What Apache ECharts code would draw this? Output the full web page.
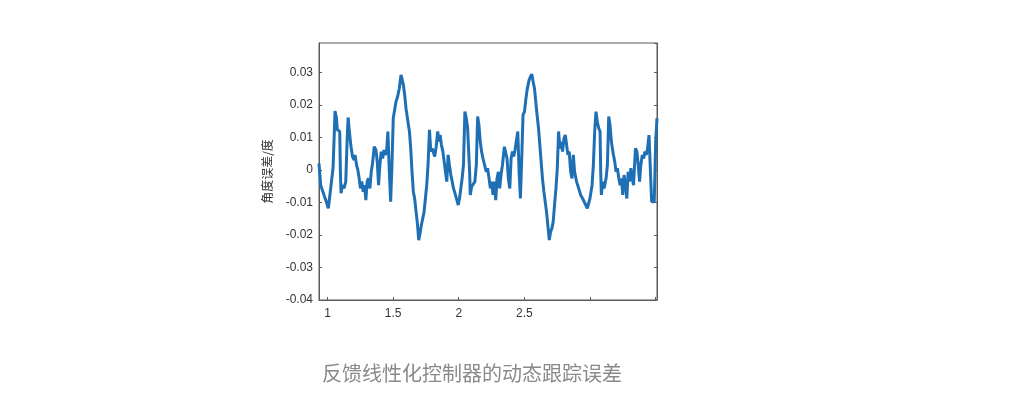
<!DOCTYPE html>
<html lang="zh">
<head>
    <meta charset="UTF-8">
    <title>反馈线性化控制器的动态跟踪误差</title>
    <style>
        html, body { margin: 0; padding: 0; background: #fff; }
        #container { width: 1024px; height: 407px; }
    </style>
</head>
<body>
<div id="container"></div>
<script src="https://cdn.jsdelivr.net/npm/echarts@6/dist/echarts.min.js"></script>
<script type="text/javascript">
    // time (x) and angle error (y)
    var timeData = [
        0.935, 0.948, 0.973, 0.991, 1.006, 1.024, 1.042, 1.052, 1.057, 1.068, 1.075, 1.083, 1.093, 1.098, 1.103,
        1.113, 1.126, 1.139, 1.149, 1.157, 1.164, 1.177, 1.190, 1.203, 1.210, 1.221, 1.231, 1.241, 1.251, 1.261,
        1.272, 1.282, 1.292, 1.302, 1.312, 1.323, 1.333, 1.343, 1.356, 1.369, 1.379, 1.389, 1.399, 1.409, 1.420,
        1.430, 1.440, 1.450, 1.460, 1.471, 1.481, 1.491, 1.501, 1.511, 1.522, 1.534, 1.547, 1.560, 1.567, 1.578,
        1.588, 1.598, 1.613, 1.624, 1.634, 1.644, 1.654, 1.664, 1.675, 1.685, 1.695, 1.705, 1.715, 1.726, 1.736,
        1.746, 1.756, 1.766, 1.777, 1.787, 1.797, 1.807, 1.817, 1.828, 1.840, 1.848, 1.858, 1.868, 1.879, 1.889,
        1.899, 1.909, 1.919, 1.929, 1.940, 1.950, 1.960, 1.975, 1.986, 1.996, 2.006, 2.016, 2.026, 2.036, 2.047,
        2.057, 2.067, 2.077, 2.083, 2.088, 2.098, 2.108, 2.123, 2.134, 2.144, 2.154, 2.164, 2.174, 2.185, 2.197,
        2.210, 2.220, 2.231, 2.241, 2.251, 2.261, 2.271, 2.282, 2.292, 2.302, 2.312, 2.322, 2.333, 2.348, 2.358,
        2.368, 2.378, 2.389, 2.399, 2.409, 2.419, 2.429, 2.440, 2.450, 2.460, 2.470, 2.480, 2.490, 2.501, 2.511,
        2.521, 2.536, 2.547, 2.557, 2.567, 2.577, 2.587, 2.597, 2.608, 2.618, 2.628, 2.638, 2.649, 2.659, 2.669,
        2.679, 2.690, 2.700, 2.710, 2.720, 2.730, 2.741, 2.751, 2.761, 2.771, 2.781, 2.791, 2.802, 2.812, 2.822,
        2.832, 2.842, 2.853, 2.863, 2.873, 2.883, 2.898, 2.914, 2.929, 2.944, 2.980, 3.000, 3.016, 3.026, 3.036,
        3.046, 3.056, 3.067, 3.077, 3.082, 3.087, 3.097, 3.108, 3.123, 3.133, 3.143, 3.153, 3.163, 3.179, 3.189,
        3.199, 3.209, 3.220, 3.230, 3.240, 3.250, 3.260, 3.271, 3.281, 3.291, 3.301, 3.312, 3.322, 3.332, 3.347,
        3.358, 3.368, 3.378, 3.388, 3.399, 3.409, 3.419, 3.429, 3.439, 3.450, 3.460, 3.470, 3.490, 3.501, 3.511
    ];
    var errorData = [
        0.0020, -0.0047, -0.0077, -0.0098, -0.0118, -0.0057, 0.0005, 0.0118, 0.0181, 0.0159, 0.0123, 0.0128, 0.0118, -0.0006, -0.0072,
        -0.0047, -0.0057, -0.0036, 0.0087, 0.0161, 0.0128, 0.0077, 0.0041, 0.0030, 0.0046, 0.0015, 0.0000, -0.0026, -0.0057, -0.0036,
        -0.0067, -0.0047, -0.0093, -0.0036, -0.0026, -0.0057, -0.0006, 0.0020, 0.0071, 0.0061, 0.0025, -0.0047, 0.0015, 0.0056, 0.0035,
        0.0061, 0.0046, 0.0056, 0.0118, -0.0006, -0.0098, 0.0015, 0.0159, 0.0153, 0.0210, 0.0225, 0.0251, 0.0292, 0.0297, 0.0261,
        0.0230, 0.0189, 0.0148, 0.0118, 0.0066, -0.0006, -0.0067, -0.0088, -0.0129, -0.0165, -0.0216, -0.0195, -0.0170, -0.0165, -0.0129,
        -0.0088, -0.0047, 0.0015, 0.0123, 0.0056, 0.0066, 0.0066, 0.0041, 0.0071, 0.0118, 0.0087, 0.0107, 0.0077, 0.0056, 0.0061,
        -0.0006, -0.0036, 0.0046, 0.0015, -0.0016, -0.0036, -0.0057, -0.0077, -0.0093, -0.0108, -0.0088, -0.0057, -0.0026, 0.0015, 0.0179,
        0.0159, 0.0133, 0.0128, -0.0006, -0.0077, -0.0052, -0.0057, -0.0036, 0.0015, 0.0164, 0.0138, 0.0087, 0.0056, 0.0035, 0.0015,
        -0.0006, 0.0005, -0.0026, -0.0057, -0.0036, -0.0077, -0.0036, -0.0093, -0.0026, -0.0006, -0.0057, -0.0016, 0.0015, 0.0071, 0.0066,
        0.0035, -0.0026, -0.0057, 0.0035, 0.0056, 0.0041, 0.0061, 0.0056, 0.0118, -0.0006, -0.0088, 0.0035, 0.0169, 0.0179, 0.0215,
        0.0246, 0.0276, 0.0287, 0.0294, 0.0271, 0.0251, 0.0210, 0.0169, 0.0128, 0.0077, 0.0025, -0.0026, -0.0067, -0.0098, -0.0129,
        -0.0170, -0.0216, -0.0190, -0.0180, -0.0159, -0.0108, -0.0057, 0.0005, 0.0118, 0.0066, 0.0087, 0.0056, 0.0097, 0.0107, 0.0077,
        0.0046, 0.0056, -0.0006, -0.0026, 0.0046, -0.0006, -0.0036, -0.0057, -0.0077, -0.0088, -0.0118, -0.0088, -0.0047, 0.0015, 0.0118,
        0.0179, 0.0148, 0.0128, 0.0118, -0.0006, -0.0077, -0.0036, -0.0057, -0.0026, 0.0015, 0.0164, 0.0138, 0.0087, 0.0046, 0.0025,
        -0.0006, 0.0005, -0.0026, -0.0047, -0.0026, -0.0077, -0.0016, -0.0047, -0.0088, -0.0006, -0.0036, 0.0005, -0.0026, -0.0047, 0.0066,
        0.0056, 0.0015, -0.0036, 0.0015, 0.0046, 0.0035, 0.0056, 0.0046, 0.0066, 0.0107, 0.0005, -0.0098, -0.0098, 0.0087, 0.0159
    ];
    var xTickLabels = [1, 1.5, 2, 2.5];

    var dom = document.getElementById("container");
    var myChart = echarts.init(dom);

    var points = [];
    for (var i = 0; i < timeData.length; i++) {
        points.push([timeData[i], errorData[i]]);
    }

    var axisColor = '#5a5a5a';

    var option = {
        animation: false,
        grid: {
            left: 319,
            top: 43,
            width: 338,
            height: 257,
            show: true,
            borderColor: axisColor,
            borderWidth: 1
        },
        xAxis: {
            type: 'value',
            min: 0.935,
            max: 3.511,
            splitNumber: 5,
            axisLine: {onZero: false, lineStyle: {color: axisColor}},
            axisTick: {inside: true, length: 3, lineStyle: {color: axisColor}},
            splitLine: {show: false},
            axisLabel: {
                color: '#333',
                fontSize: 12,
                fontFamily: 'Liberation Sans',
                margin: 8,
                showMinLabel: false,
                showMaxLabel: false,
                formatter: function (v) {
                    for (var k = 0; k < xTickLabels.length; k++) {
                        if (Math.abs(v - xTickLabels[k]) < 1e-6) return String(xTickLabels[k]);
                    }
                    return '';
                }
            }
        },
        yAxis: [
            {
                type: 'value',
                min: -0.04,
                max: 0.039,
                interval: 0.01,
                name: '角度误差/度',
                nameLocation: 'middle',
                nameGap: 46,
                nameTextStyle: {color: '#333', fontSize: 12, fontFamily: 'Noto Sans CJK SC'},
                axisLine: {show: true, onZero: false, lineStyle: {color: axisColor}},
                axisTick: {show: true, inside: true, length: 3, lineStyle: {color: axisColor}},
                splitLine: {show: false},
                axisLabel: {
                    color: '#333',
                    fontSize: 12,
                    fontFamily: 'Liberation Sans',
                    margin: 6,
                    showMaxLabel: false
                }
            },
            {
                type: 'value',
                position: 'right',
                min: -0.04,
                max: 0.039,
                interval: 0.01,
                axisLine: {show: true, onZero: false, lineStyle: {color: axisColor}},
                axisTick: {show: true, inside: true, length: 3, lineStyle: {color: axisColor}},
                splitLine: {show: false},
                axisLabel: {show: false}
            }
        ],
        series: [
            {
                type: 'line',
                data: points,
                showSymbol: false,
                lineStyle: {color: '#1f6fb5', width: 3},
                itemStyle: {color: '#1f6fb5'}
            }
        ],
        graphic: [
            {
                type: 'text',
                left: 322,
                top: 363,
                style: {
                    text: '反馈线性化控制器的动态跟踪误差',
                    fontSize: 20,
                    fontFamily: 'Noto Sans CJK SC',
                    fill: '#8a8a8a'
                }
            }
        ]
    };

    myChart.setOption(option, true);
</script>
</body>
</html>
